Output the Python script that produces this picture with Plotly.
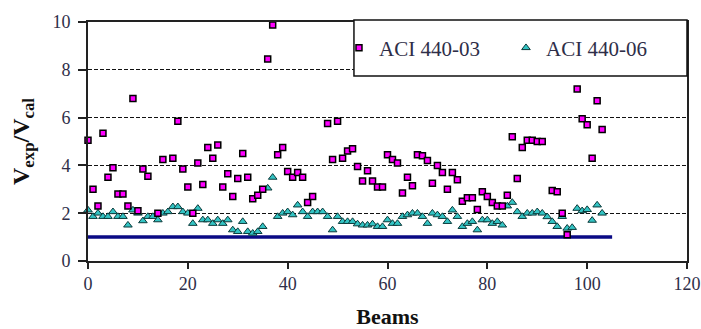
import plotly.graph_objects as go

# ---- data ----
sq_beams = [0, 1, 2, 3, 4, 5, 6, 7, 8, 9, 10, 11, 12, 14, 15, 17, 18, 19, 20, 21,
            22, 23, 24, 25, 26, 27, 28, 29, 30, 31, 32, 33, 34, 35, 36, 37, 38, 39, 40, 41,
            42, 43, 44, 45, 48, 49, 50, 51, 52, 53, 54, 55, 56, 57, 58, 59, 60, 61, 62, 63,
            64, 65, 66, 67, 68, 69, 70, 71, 72, 73, 74, 75, 76, 77, 78, 79, 80, 81, 82, 83,
            84, 85, 86, 87, 88, 89, 90, 91, 93, 94, 95, 96, 98, 99, 100, 101, 102, 103]
sq_vals = [5.05, 3.0, 2.3, 5.35, 3.5, 3.9, 2.8, 2.8, 2.3, 6.8, 2.1, 3.85, 3.55, 2.0, 4.25, 4.3, 5.85, 3.85, 3.1, 2.0,
           4.1, 3.2, 4.75, 4.3, 4.85, 3.1, 3.65, 2.7, 3.45, 4.5, 3.5, 2.6, 2.75, 3.0, 8.45, 9.87, 4.45, 4.75, 3.75, 3.5,
           3.7, 3.5, 2.45, 2.7, 5.75, 4.25, 5.85, 4.3, 4.6, 4.7, 3.95, 3.35, 3.78, 3.35, 3.1, 3.1, 4.45, 4.25, 4.1, 2.85,
           3.5, 3.15, 4.45, 4.4, 4.2, 3.25, 4.0, 3.7, 3.0, 3.7, 3.4, 2.5, 2.65, 2.65, 2.15, 2.9, 2.7, 2.45, 2.3, 2.3,
           2.75, 5.2, 3.45, 4.75, 5.05, 5.05, 5.0, 5.0, 2.95, 2.9, 2.0, 1.1, 7.2, 5.95, 5.7, 4.3, 6.7, 5.5]

tri_beams = list(range(0, 104))
tri_vals = [2.13, 1.86, 2.0, 1.86, 1.86, 2.06, 1.86, 1.86, 1.5, 2.13,
            2.0, 1.68, 1.86, 1.86, 1.72, 2.0, 2.06, 2.27, 2.27, 2.06,
            2.0, 1.57, 2.2, 1.72, 1.72, 1.57, 1.72, 1.57, 1.72, 1.3,
            1.23, 1.65, 1.23, 1.16, 1.23, 1.44, 3.05, 3.5, 1.86, 2.0,
            2.06, 1.93, 2.34, 2.06, 1.86, 2.06, 2.06, 2.06, 1.86, 1.3,
            1.86, 1.65, 1.65, 1.65, 1.55, 1.5, 1.5, 1.55, 1.44, 1.44,
            1.72, 1.57, 1.57, 1.86, 1.93, 2.0, 2.0, 1.86, 1.57, 2.0,
            1.93, 1.86, 1.65, 2.13, 1.86, 1.44, 1.57, 1.65, 1.3, 1.72,
            1.72, 1.57, 1.65, 1.5, 2.3, 2.45, 2.06, 1.86, 2.0, 2.0,
            2.06, 2.0, 1.85, 1.65, 1.44, 1.86, 1.37, 1.4, 2.2, 2.1,
            2.15, 1.7, 2.34, 2.0]

ref_x = [0, 105]
ref_y = [1.0, 1.0]

x_ticks = [0, 20, 40, 60, 80, 100, 120]
y_ticks = [0, 2, 4, 6, 8, 10]

SERIF = "Liberation Serif, Times New Roman, serif"
TXT = "#2e2e48"

fig = go.Figure()

fig.add_trace(go.Scatter(
    x=ref_x, y=ref_y, mode="lines",
    line=dict(color="#0a0a85", width=3.5),
    showlegend=False, hoverinfo="skip"))

fig.add_trace(go.Scatter(
    x=tri_beams, y=tri_vals, mode="markers", name="ACI 440-06",
    marker=dict(symbol="triangle-up", size=7.5, color="#33c4c4",
                line=dict(color="#0b3a3a", width=1)),
    cliponaxis=False))

fig.add_trace(go.Scatter(
    x=sq_beams, y=sq_vals, mode="markers", name="ACI 440-03",
    marker=dict(symbol="square", size=6, color="#ff00ff",
                line=dict(color="#000000", width=1.5)),
    cliponaxis=False))

# legend frame
fig.add_shape(type="rect", xref="paper", yref="paper",
              x0=0.444, x1=1.0, y0=0.774, y1=1.008,
              line=dict(color="#111111", width=1.5), fillcolor="white", layer="above")

fig.update_layout(
    width=701, height=329,
    margin=dict(l=88, r=14, t=22, b=68),
    plot_bgcolor="white", paper_bgcolor="white",
    font=dict(family=SERIF, size=18, color=TXT),
    showlegend=True,
    legend=dict(orientation="h", x=0.419, xanchor="left", y=0.891, yanchor="middle",
                bgcolor="rgba(0,0,0,0)", borderwidth=0,
                font=dict(family=SERIF, size=21, color=TXT),
                traceorder="reversed", entrywidth=122, entrywidthmode="pixels"),
    xaxis=dict(range=[0, 120], tickvals=x_ticks, ticks="outside", ticklen=6,
               tickwidth=1.5, tickcolor="#222", showline=True, linecolor="#222",
               linewidth=1.5, mirror=True, showgrid=False, zeroline=False,
               automargin=False,
               tickfont=dict(family=SERIF, size=18, color=TXT),
               title=dict(text="<b>Beams</b>", font=dict(family=SERIF, size=22, color="#111"),
                          standoff=18)),
    yaxis=dict(range=[0, 10], tickvals=y_ticks, ticks="outside", ticklen=8,
               tickwidth=1.5, tickcolor="#222", showline=True, linecolor="#222",
               linewidth=2, mirror=True, showgrid=True, gridcolor="#111",
               griddash="4px,2px", gridwidth=1.2, zeroline=False,
               ticklabelstandoff=4, automargin=False,
               tickfont=dict(family=SERIF, size=18, color=TXT),
               title=dict(text="<b>V<sub>exp</sub>/V<sub>cal</sub></b>",
                          font=dict(family=SERIF, size=24, color="#111"), standoff=16)),
)

fig.write_html("out.html")
